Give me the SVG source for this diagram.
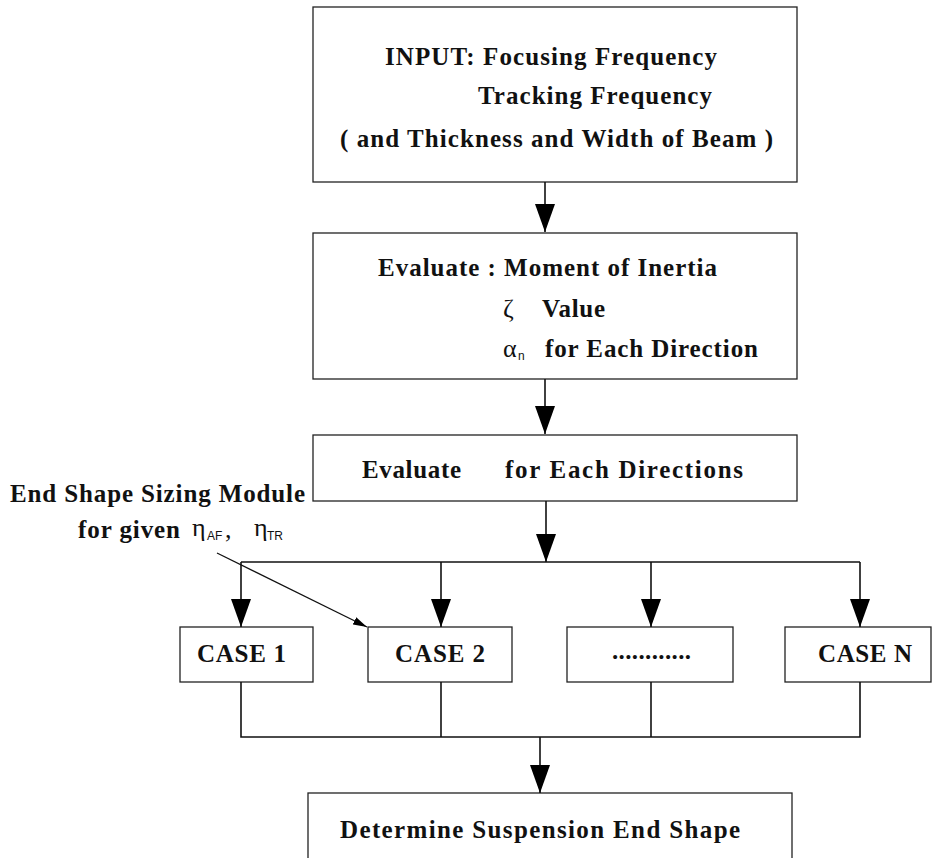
<svg xmlns="http://www.w3.org/2000/svg" width="932" height="858" viewBox="0 0 932 858">
<style>
.box{fill:#fff;stroke:#222;stroke-width:1.3}
.t{font-family:"Liberation Serif","Times New Roman",serif;font-weight:bold;font-size:25px;fill:#111}
.c{font-family:"Liberation Serif","Times New Roman",serif;font-weight:bold;font-size:25px;fill:#111}
.g{font-family:"Liberation Serif","Times New Roman",serif;font-size:26px;fill:#111}
.s{font-family:"Liberation Sans",Arial,sans-serif;font-size:12px;fill:#111}
.ln{fill:none;stroke:#111;stroke-width:1.6}
.ln2{fill:none;stroke:#111;stroke-width:1.3}
</style>
<defs>
<marker id="ah" viewBox="0 0 28 20" refX="28" refY="10" markerWidth="28" markerHeight="20" markerUnits="userSpaceOnUse" orient="auto">
<path d="M0,0 L28,10 L0,20 z" fill="#000"/>
</marker>
<marker id="sh" viewBox="0 0 14 8" refX="14" refY="4" markerWidth="14" markerHeight="8" markerUnits="userSpaceOnUse" orient="auto">
<path d="M0,0 L14,4 L0,8 z" fill="#000"/>
</marker>
</defs>
<rect width="932" height="858" fill="#fff"/>

<g id="input">
<rect class="box" x="313" y="7" width="484" height="175"/>
<text class="t" x="385" y="65" textLength="332" lengthAdjust="spacing">INPUT: Focusing Frequency</text>
<text class="t" x="478" y="104" textLength="234" lengthAdjust="spacing">Tracking Frequency</text>
<text class="t" x="340" y="147" textLength="433" lengthAdjust="spacing">( and Thickness and Width of Beam )</text>
</g>

<g id="evaluate1">
<rect class="box" x="313" y="233" width="484" height="146"/>
<text class="t" x="378" y="276" textLength="339" lengthAdjust="spacing">Evaluate : Moment of Inertia</text>
<text class="g" x="503" y="317">ζ</text>
<text class="t" x="542" y="317" textLength="63" lengthAdjust="spacing">Value</text>
<text class="g" x="503" y="357">α</text>
<text class="s" x="518" y="360" font-size="10">n</text>
<text class="t" x="545" y="357" textLength="213" lengthAdjust="spacing">for Each Direction</text>
</g>

<g id="evaluate2">
<rect class="box" x="313" y="435" width="484" height="66"/>
<text class="t" x="362" y="478" textLength="99" lengthAdjust="spacing">Evaluate</text>
<text class="t" x="505" y="478" textLength="238" lengthAdjust="spacing">for Each Directions</text>
</g>

<g id="module-label">
<text class="t" x="10" y="502" textLength="295" lengthAdjust="spacing">End Shape Sizing Module</text>
<text class="t" x="78" y="538" textLength="102" lengthAdjust="spacing">for given</text>
<text class="g" x="192" y="536" font-size="23">η</text>
<text class="s" x="207" y="540">AF</text>
<text class="g" x="225" y="538" font-size="20">,</text>
<text class="g" x="254" y="536" font-size="23">η</text>
<text class="s" x="267" y="540" font-size="11">TR</text>
</g>

<g id="case1">
<rect class="box" x="180" y="627" width="133" height="55"/>
<text class="c" x="197" y="662" textLength="89" lengthAdjust="spacing">CASE 1</text>
</g>
<g id="case2">
<rect class="box" x="368" y="627" width="144" height="55"/>
<text class="c" x="395" y="662" textLength="90" lengthAdjust="spacing">CASE 2</text>
</g>
<g id="caseDots">
<rect class="box" x="567" y="627" width="166" height="55"/>
<text class="c" x="612" y="659" font-size="18" textLength="79" lengthAdjust="spacing">............</text>
</g>
<g id="caseN">
<rect class="box" x="785" y="627" width="146" height="55"/>
<text class="c" x="818" y="662" textLength="94" lengthAdjust="spacing">CASE N</text>
</g>

<g id="determine">
<rect class="box" x="308" y="793" width="484" height="80"/>
<text class="t" x="340" y="838" textLength="400" lengthAdjust="spacing">Determine Suspension End Shape</text>
</g>

<g id="connectors">
<line class="ln" x1="545" y1="182" x2="545" y2="232" marker-end="url(#ah)"/>
<line class="ln" x1="545" y1="379" x2="545" y2="434" marker-end="url(#ah)"/>
<line class="ln" x1="546" y1="501" x2="546" y2="562" marker-end="url(#ah)"/>
<line class="ln" x1="241" y1="562" x2="860" y2="562"/>
<line class="ln" x1="241" y1="562" x2="241" y2="627" marker-end="url(#ah)"/>
<line class="ln" x1="441" y1="562" x2="441" y2="627" marker-end="url(#ah)"/>
<line class="ln" x1="651" y1="562" x2="651" y2="627" marker-end="url(#ah)"/>
<line class="ln" x1="860" y1="562" x2="860" y2="627" marker-end="url(#ah)"/>
<polyline class="ln" points="241,682 241,737 860,737 860,682"/>
<line class="ln" x1="441" y1="682" x2="441" y2="737"/>
<line class="ln" x1="651" y1="682" x2="651" y2="737"/>
<line class="ln" x1="540" y1="737" x2="540" y2="793" marker-end="url(#ah)"/>
<line class="ln2" x1="217" y1="553" x2="367" y2="627" marker-end="url(#sh)"/>
</g>
</svg>
